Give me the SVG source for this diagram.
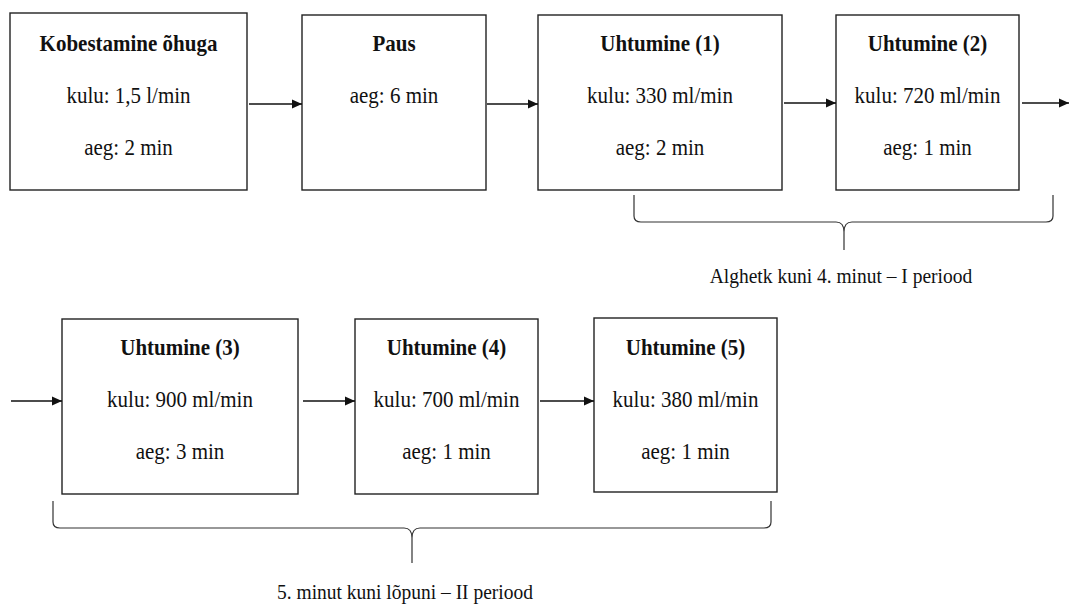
<svg xmlns="http://www.w3.org/2000/svg" width="1069" height="605" viewBox="0 0 1069 605">
<style>
.box{fill:#fff;stroke:#222;stroke-width:1.4}
.t{font-family:'Liberation Serif','Times New Roman',serif;font-size:21px;fill:#111;text-anchor:middle}
.b{font-weight:bold}
.lbl{font-family:'Liberation Serif','Times New Roman',serif;font-size:19.5px;fill:#111;text-anchor:middle}
.arr{stroke:#111;stroke-width:1.6;fill:none;marker-end:url(#ah)}
.brace{stroke:#333;stroke-width:1.2;fill:none}
</style>
<defs>
<marker id="ah" markerUnits="userSpaceOnUse" markerWidth="11" markerHeight="10" refX="10" refY="5" orient="auto">
<path d="M0,0.5 L10,5 L0,9.5 z" fill="#111"/>
</marker>
</defs>
<g id="n1"><rect class="box" x="10" y="13" width="237" height="177"/>
<text class="t b" transform="translate(128.5,51) scale(1,1.12)">Kobestamine õhuga</text>
<text class="t" transform="translate(128.5,103) scale(1,1.12)">kulu: 1,5 l/min</text>
<text class="t" transform="translate(128.5,155) scale(1,1.12)">aeg: 2 min</text></g>
<g id="n2"><rect class="box" x="302" y="15" width="184" height="175"/>
<text class="t b" transform="translate(394,51) scale(1,1.12)">Paus</text>
<text class="t" transform="translate(394,103) scale(1,1.12)">aeg: 6 min</text></g>
<g id="n3"><rect class="box" x="538" y="15" width="244" height="175"/>
<text class="t b" transform="translate(660,51) scale(1,1.12)">Uhtumine (1)</text>
<text class="t" transform="translate(660,103) scale(1,1.12)">kulu: 330 ml/min</text>
<text class="t" transform="translate(660,155) scale(1,1.12)">aeg: 2 min</text></g>
<g id="n4"><rect class="box" x="836" y="15" width="183" height="175"/>
<text class="t b" transform="translate(927.5,51) scale(1,1.12)">Uhtumine (2)</text>
<text class="t" transform="translate(927.5,103) scale(1,1.12)">kulu: 720 ml/min</text>
<text class="t" transform="translate(927.5,155) scale(1,1.12)">aeg: 1 min</text></g>
<g id="n5"><rect class="box" x="62" y="319" width="236" height="175"/>
<text class="t b" transform="translate(180,355) scale(1,1.12)">Uhtumine (3)</text>
<text class="t" transform="translate(180,407) scale(1,1.12)">kulu: 900 ml/min</text>
<text class="t" transform="translate(180,459) scale(1,1.12)">aeg: 3 min</text></g>
<g id="n6"><rect class="box" x="355" y="319" width="183" height="175"/>
<text class="t b" transform="translate(446.5,355) scale(1,1.12)">Uhtumine (4)</text>
<text class="t" transform="translate(446.5,407) scale(1,1.12)">kulu: 700 ml/min</text>
<text class="t" transform="translate(446.5,459) scale(1,1.12)">aeg: 1 min</text></g>
<g id="n7"><rect class="box" x="594" y="318" width="183" height="174"/>
<text class="t b" transform="translate(685.5,355) scale(1,1.12)">Uhtumine (5)</text>
<text class="t" transform="translate(685.5,407) scale(1,1.12)">kulu: 380 ml/min</text>
<text class="t" transform="translate(685.5,459) scale(1,1.12)">aeg: 1 min</text></g>
<g id="connectors">
<line class="arr" x1="249" y1="104" x2="302" y2="104"/>
<line class="arr" x1="487" y1="104" x2="538" y2="104"/>
<line class="arr" x1="784" y1="103" x2="836" y2="103"/>
<line class="arr" x1="1022" y1="103" x2="1069" y2="103"/>
<line class="arr" x1="11" y1="401" x2="62" y2="401"/>
<line class="arr" x1="303" y1="401" x2="355" y2="401"/>
<line class="arr" x1="540" y1="401" x2="594" y2="401"/>
</g>
<g id="brace1">
<path class="brace" d="M634,195 L634,216 Q634,222 641,222 L836,222 Q844,222 844,232 L844,250 M844,250 L844,232 Q844,222 852,222 L1046,222 Q1053,222 1053,216 L1053,195"/>
<text class="lbl" transform="translate(841,283) scale(1,1.12)">Alghetk kuni 4. minut – I periood</text>
</g>
<g id="brace2">
<path class="brace" d="M53,501 L53,522 Q53,528 60,528 L404,528 Q412,528 412,538 L412,563 M412,563 L412,538 Q412,528 420,528 L764,528 Q771,528 771,522 L771,501"/>
<text class="lbl" transform="translate(405,599) scale(1,1.12)">5. minut kuni lõpuni – II periood</text>
</g>
</svg>
